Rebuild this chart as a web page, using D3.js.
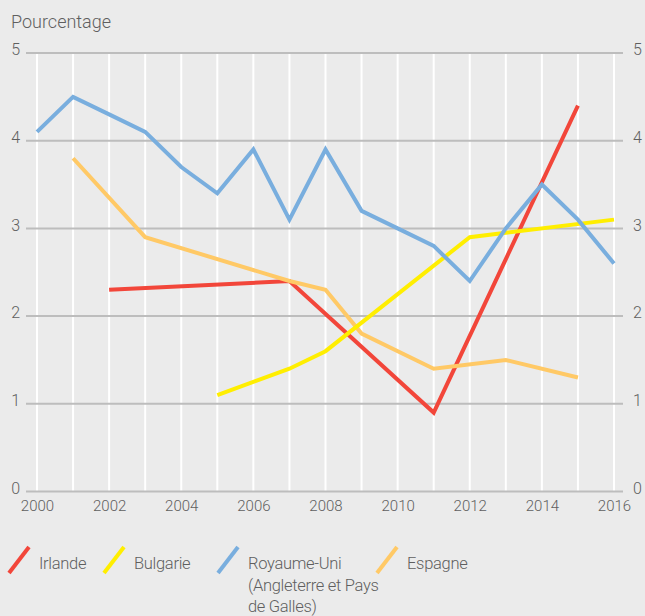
<!DOCTYPE html>
<html>
<head>
<meta charset="utf-8">
<script src="https://cdn.jsdelivr.net/npm/d3@7"></script>
<style>
  html, body { margin: 0; padding: 0; background: #ebebeb; }
  svg { display: block; }
  text { font-family: Roboto, "Open Sans", sans-serif; font-weight: 300; fill: #5f5f5f; }
</style>
</head>
<body>
<svg id="chart" width="645" height="616"></svg>
<script>
// Years on the x axis and value ticks on the y axis
const yearTicks = [2000, 2002, 2004, 2006, 2008, 2010, 2012, 2014, 2016];
const gridYears = d3.range(2000, 2017);
const valueTicks = [0, 1, 2, 3, 4, 5];

// Series (percentage by year)
const irlande = [
  [2002, 2.3], [2007, 2.4], [2011, 0.9], [2015, 4.4]
];
const bulgarie = [
  [2005, 1.1], [2007, 1.4], [2008, 1.6], [2012, 2.9], [2013, 2.95], [2016, 3.1]
];
const royaumeUni = [
  [2000, 4.1], [2001, 4.5], [2002, 4.3], [2003, 4.1], [2004, 3.7], [2005, 3.4],
  [2006, 3.9], [2007, 3.1], [2008, 3.9], [2009, 3.2], [2010, 3.0], [2011, 2.8],
  [2012, 2.4], [2013, 3.0], [2014, 3.5], [2015, 3.1], [2016, 2.6]
];
const espagne = [
  [2001, 3.8], [2003, 2.9], [2007, 2.4], [2008, 2.3], [2009, 1.8],
  [2011, 1.4], [2013, 1.5], [2015, 1.3]
];

const seriesNames = ["Irlande", "Bulgarie", "Royaume-Uni\n(Angleterre et Pays\nde Galles)", "Espagne"];
const seriesColors = ["#f2463a", "#ffee00", "#79aede", "#ffc966"];
const seriesData = [irlande, bulgarie, royaumeUni, espagne];
// Paint order: red, orange, yellow, blue
const drawOrder = [0, 3, 1, 2];

const svg = d3.select("#chart");

const x = d3.scaleLinear().domain([2000, 2016]).range([37, 614]);
const y = d3.scaleLinear().domain([0, 5]).range([491.5, 53]);

// Vertical white gridlines
svg.append("g")
  .selectAll("line")
  .data(gridYears)
  .join("line")
  .attr("x1", d => x(d)).attr("x2", d => x(d))
  .attr("y1", y(5)).attr("y2", y(0))
  .attr("stroke", "#ffffff")
  .attr("stroke-width", 2);

// Horizontal grey gridlines
svg.append("g")
  .selectAll("line")
  .data(valueTicks)
  .join("line")
  .attr("x1", 26).attr("x2", 623)
  .attr("y1", d => y(d)).attr("y2", d => y(d))
  .attr("stroke", "#bdbdbd")
  .attr("stroke-width", 2);

// Left and right value labels
const fmt = d3.format("d");
const leftAxis = d3.axisLeft(y).tickValues(valueTicks).tickFormat(fmt).tickSize(0).tickPadding(0);
const gl = svg.append("g").attr("transform", "translate(20,0)").call(leftAxis);
const rightAxis = d3.axisRight(y).tickValues(valueTicks).tickFormat(fmt).tickSize(0).tickPadding(0);
const gr = svg.append("g").attr("transform", "translate(633,0)").call(rightAxis);
[gl, gr].forEach(g => {
  g.select(".domain").remove();
  g.selectAll("text")
    .attr("font-size", 16)
    .attr("font-family", "Roboto, sans-serif")
    .attr("fill", "#5f5f5f")
    .attr("dy", "0.1em");
});

// Year labels
const bottomAxis = d3.axisBottom(x).tickValues(yearTicks).tickFormat(fmt).tickSize(0).tickPadding(0);
const gb = svg.append("g").attr("transform", "translate(0,500)").call(bottomAxis);
gb.select(".domain").remove();
gb.selectAll("text")
  .attr("font-size", 15)
  .attr("font-family", "Roboto, sans-serif")
  .attr("fill", "#5f5f5f");

// Axis title
svg.append("text")
  .attr("x", 11).attr("y", 28)
  .attr("font-size", 18)
  .text("Pourcentage");

// Lines
const line = d3.line().x(d => x(d[0])).y(d => y(d[1]));
svg.append("g")
  .selectAll("path")
  .data(drawOrder)
  .join("path")
  .attr("d", i => line(seriesData[i]))
  .attr("fill", "none")
  .attr("stroke", i => seriesColors[i])
  .attr("stroke-width", 4)
  .attr("stroke-linejoin", "miter");

// Legend
const legendX = [9, 104, 218, 377];
const legend = svg.append("g")
  .selectAll("g")
  .data(seriesNames)
  .join("g")
  .attr("transform", (d, i) => `translate(${legendX[i]},0)`);

legend.append("line")
  .attr("x1", 0).attr("y1", 573)
  .attr("x2", 20).attr("y2", 547)
  .attr("stroke", (d, i) => seriesColors[i])
  .attr("stroke-width", 4);

legend.append("text")
  .attr("font-size", 16.5)
  .attr("letter-spacing", -0.3)
  .each(function(d) {
    const lines = d.split("\n");
    d3.select(this).selectAll("tspan")
      .data(lines)
      .join("tspan")
      .attr("x", 30)
      .attr("y", (l, j) => 569 + j * 21.5)
      .text(l => l);
  });
</script>
</body>
</html>
